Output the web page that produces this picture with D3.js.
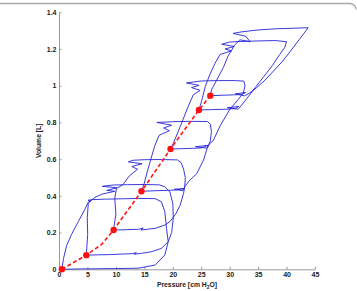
<!DOCTYPE html>
<html>
<head>
<meta charset="utf-8">
<script src="https://cdn.jsdelivr.net/npm/d3@7"></script>
<style>
  body { margin: 0; background: #fff; }
  svg text { font-family: "Liberation Sans", Arial, sans-serif; font-weight: bold; }
</style>
</head>
<body>
<div id="chart"></div>
<script>
// PEEP steps (red markers)
var peepPressure = [0.5, 4.8, 9.6, 14.5, 19.6, 24.6, 26.6];
var peepVolume = [0, 0.077, 0.214, 0.425, 0.655, 0.868, 0.946];

// fitted dashed line through the steps
var fitPressure = [0.5, 4.8, 7.5, 9.6, 14.5, 19.6, 24.6, 26.6];
var fitVolume = [0, 0.077, 0.136, 0.214, 0.425, 0.655, 0.868, 0.946];

// pressure-volume loops, [pressure, volume]
var loopA = [[0.5,0],[2,0.001],[4,0.002],[7,0.003],[10,0.004],[13.9,0.006],[16.9,0.023],[18.6,0.078],[19.2,0.15],
  [18.9,0.223],[18.6,0.314],[18,0.368],[16.9,0.385],[14,0.386],[11,0.384],[8,0.382],[6,0.38],[5.1,0.376],
  [5.6,0.372],[5.15,0.366],[4.6,0.33],[3.4,0.26],[2.2,0.19],[1.35,0.13],[0.8,0.06],[0.5,0]];
var loopB = [[4.8,0.077],[7,0.079],[9,0.08],[11,0.083],[12.8,0.085],[13.6,0.09],[13.2,0.082],[14.5,0.087],
  [16.3,0.096],[18,0.114],[19.2,0.15],[19.8,0.2],[20.1,0.28],[20,0.36],[19.5,0.42],[18.6,0.45],[17.6,0.46],
  [15,0.462],[12,0.461],[9.5,0.459],[7.6,0.452],[10.2,0.444],[8.4,0.43],[9.8,0.425],[7.6,0.41],[6.2,0.39],
  [5.15,0.36],[4.97,0.28],[5.04,0.19],[4.8,0.077]];
var loopC = [[9.6,0.214],[12,0.216],[14,0.218],[14.8,0.225],[14.4,0.214],[16.9,0.223],[18.6,0.241],[19.5,0.26],
  [20.5,0.3],[21.3,0.35],[21.9,0.414],[22.1,0.45],[22.2,0.5],[21.9,0.545],[21.5,0.58],[20.8,0.596],[18,0.598],
  [15,0.597],[13,0.594],[12.2,0.585],[14.6,0.575],[12.8,0.56],[13.8,0.545],[12.4,0.51],[11.2,0.46],[10.1,0.44],
  [9.8,0.387],[10,0.3],[9.7,0.24],[9.6,0.214]];
var loopD = [[14.5,0.425],[17,0.428],[19,0.43],[20.6,0.432],[22,0.44],[20.3,0.436],[21.8,0.428],[22.1,0.45],
  [23,0.486],[24.2,0.52],[25.4,0.595],[26,0.655],[26.6,0.7],[26.8,0.75],[26.6,0.79],[26.1,0.805],[23,0.806],
  [20,0.804],[17.2,0.8],[19.8,0.785],[18.4,0.77],[19.4,0.755],[17.6,0.73],[16.8,0.67],[16.1,0.595],[15.5,0.53],
  [15,0.47],[14.5,0.425]];
var loopE = [[19.6,0.655],[21.5,0.657],[23.5,0.659],[25,0.661],[26.2,0.675],[24,0.668],[26,0.66],[26.5,0.685],
  [27.1,0.7],[28.3,0.78],[30,0.87],[31.5,0.925],[32.4,0.96],[32.7,1],[32.5,1.025],[31,1.028],[28,1.028],[25,1.026],
  [22.4,1.015],[24.6,1.002],[23.3,0.99],[24.8,0.975],[23.6,0.95],[22.7,0.886],[21.3,0.777],[20.1,0.686],[19.6,0.655]];
var loopF = [[24.6,0.868],[27,0.87],[29.5,0.872],[31,0.876],[31.6,0.887],[29.6,0.88],[31.5,0.872],[32,0.89],
  [33,0.93],[34.5,0.99],[36,1.05],[37.5,1.11],[38.8,1.17],[39.7,1.21],[40,1.24],[38,1.246],[35,1.244],[32,1.241],
  [30,1.238],[28.6,1.226],[30.8,1.214],[29.2,1.2],[30.3,1.19],[28.3,1.17],[27.4,1.12],[26.5,1.06],[25.7,0.995],
  [25.1,0.92],[24.6,0.868]];
var loopG = [[26.6,0.946],[28.5,0.948],[30.5,0.95],[32,0.952],[32.8,0.963],[31,0.956],[32.6,0.945],[33.5,0.96],
  [34.75,0.99],[36.2,1.03],[37.7,1.08],[39.2,1.13],[40.6,1.185],[42.2,1.25],[43.8,1.316],[42,1.314],[38,1.31],
  [34.75,1.303],[32,1.293],[30.6,1.285],[32.8,1.27],[33.6,1.24],[31.8,1.25],[30.8,1.22],[30.3,1.19],[29.8,1.167],
  [28.9,1.1],[27.7,1.03],[26.8,0.977],[26.6,0.946]];
var loops = [loopA, loopB, loopC, loopD, loopE, loopF, loopG];

var xTicks = [0, 5, 10, 15, 20, 25, 30, 35, 40, 45];
var yTicks = [0, 0.2, 0.4, 0.6, 0.8, 1, 1.2, 1.4];

var margin = { top: 12.3, right: 42, bottom: 21.7, left: 59 },
    width = 357 - margin.left - margin.right,
    height = 291 - margin.top - margin.bottom;

var svgRoot = d3
    .select("#chart")
    .append("svg")
    .attr("width", 357)
    .attr("height", 291);

// thin frame at the top of the figure
svgRoot
    .append("path")
    .attr("d", "M0,3.5 H350 A6,6 0 0 1 356,9.5")
    .attr("fill", "none")
    .attr("stroke", "#a8a8a8")
    .attr("stroke-width", 1.3);

var svg = svgRoot
    .append("g")
    .attr("transform", "translate(" + margin.left + "," + margin.top + ")");

var x = d3.scaleLinear().domain([0, 45]).range([0, width]);
var y = d3.scaleLinear().domain([0, 1.4]).range([height, 0]);

var xAxis = svg
    .append("g")
    .attr("transform", "translate(0," + height + ")")
    .call(
        d3.axisBottom(x)
            .tickValues(xTicks)
            .tickSize(-2.5)
            .tickSizeOuter(0)
            .tickPadding(2.5)
            .tickFormat(function (d) { return d; })
    );

var yAxis = svg
    .append("g")
    .call(
        d3.axisLeft(y)
            .tickValues(yTicks)
            .tickSize(-2.5)
            .tickSizeOuter(0)
            .tickPadding(2.5)
            .tickFormat(function (d) { return String(+d.toFixed(1)); })
    );

svg.selectAll(".domain").attr("stroke", "#9a9a9a");
svg.selectAll(".tick line").attr("stroke", "#9a9a9a");
svg.selectAll(".tick text").attr("font-size", "7px").attr("fill", "#222");

// axis titles
svg.append("text")
    .attr("text-anchor", "middle")
    .attr("transform", "rotate(-90)")
    .attr("x", -height / 2)
    .attr("y", 39 - margin.left + 2.3)
    .attr("font-size", "6.8px")
    .attr("fill", "#222")
    .text("Volume [L]");

var xTitle = svg.append("text")
    .attr("text-anchor", "middle")
    .attr("x", width / 2)
    .attr("y", height + 18)
    .attr("font-size", "6.8px")
    .attr("fill", "#222");
xTitle.append("tspan").text("Pressure [cm H");
xTitle.append("tspan").attr("dy", 2).attr("font-size", "5px").text("2");
xTitle.append("tspan").attr("dy", -2).text("O]");

// loops
var line = d3.line()
    .x(function (d) { return x(d[0]); })
    .y(function (d) { return y(d[1]); });

svg.append("g")
    .selectAll("path")
    .data(loops)
    .enter()
    .append("path")
    .attr("d", line)
    .attr("fill", "none")
    .attr("stroke", "#2424d8")
    .attr("stroke-width", 0.9)
    .attr("stroke-linejoin", "round");

// dashed fit line and step markers
var fitData = fitPressure.map(function (p, i) { return [p, fitVolume[i]]; });
svg.append("path")
    .datum(fitData)
    .attr("d", line)
    .attr("fill", "none")
    .attr("stroke", "#ff1515")
    .attr("stroke-width", 1.6)
    .attr("stroke-dasharray", "4,2.5");

svg.append("g")
    .selectAll("circle")
    .data(peepPressure)
    .enter()
    .append("circle")
    .attr("cx", function (d) { return x(d); })
    .attr("cy", function (d, i) { return y(peepVolume[i]); })
    .attr("r", 3.2)
    .style("fill", "#ff1010");
</script>
</body>
</html>
